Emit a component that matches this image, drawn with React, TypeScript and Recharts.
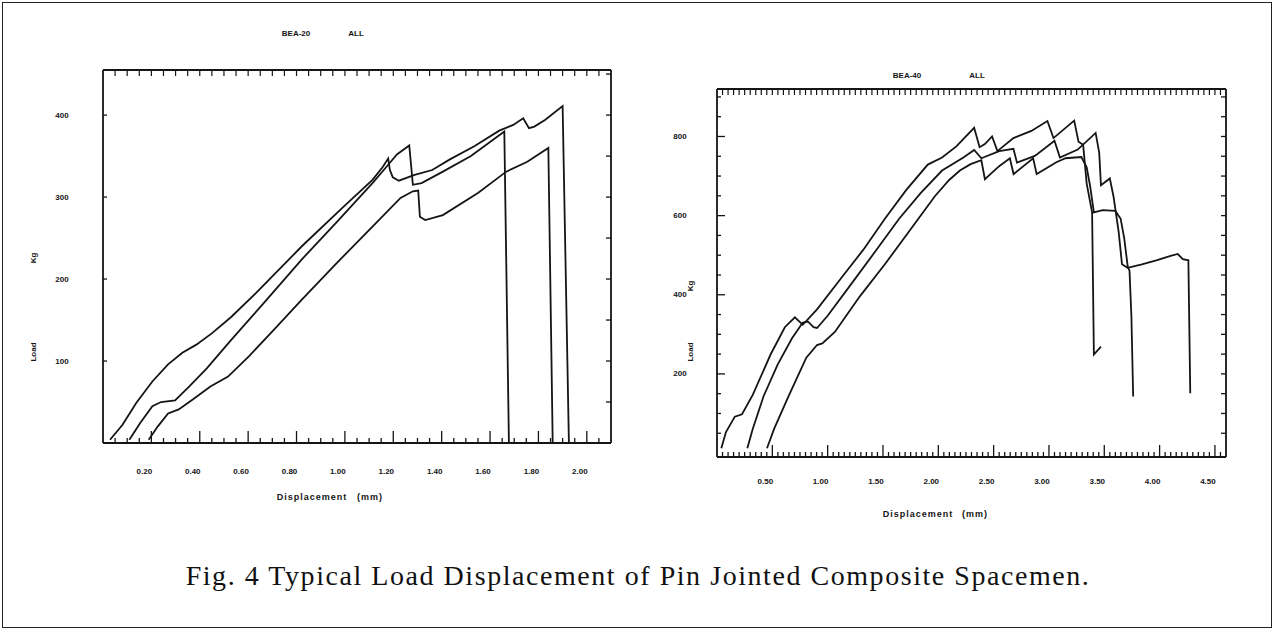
import { LineChart, Line, XAxis, YAxis } from "recharts";

// ---- left panel (BEA-20) ----
const L_X_LABELS = [0.2, 0.4, 0.6, 0.8, 1.0, 1.2, 1.4, 1.6, 1.8, 2.0];
const L_Y_LABELS = [100, 200, 300, 400];

const L1_X = [0.029, 0.08, 0.138, 0.204, 0.269, 0.328, 0.386, 0.451, 0.531, 0.633, 0.822, 0.997, 1.114, 1.157, 1.179, 1.186, 1.198, 1.223, 1.288, 1.361, 1.434, 1.535, 1.638, 1.696, 1.737, 1.761, 1.783, 1.827, 1.9, 1.926];
const L1_Y = [4, 22, 49, 75, 96, 110, 120, 134, 154, 183, 240, 289, 321, 337, 347, 333, 324, 320, 327, 333, 346, 362, 381, 388, 396, 384, 386, 394, 411, 0];

const L2_X = [0.109, 0.153, 0.204, 0.24, 0.298, 0.357, 0.429, 0.531, 0.677, 0.822, 0.968, 1.114, 1.172, 1.215, 1.266, 1.281, 1.317, 1.405, 1.521, 1.659, 1.678];
const L2_Y = [4, 24, 45, 50, 52, 69, 91, 126, 175, 224, 270, 317, 337, 352, 363, 315, 317, 331, 350, 380, 0];

const L3_X = [0.189, 0.226, 0.269, 0.313, 0.371, 0.444, 0.517, 0.604, 0.706, 0.822, 0.968, 1.114, 1.23, 1.281, 1.303, 1.31, 1.332, 1.405, 1.55, 1.667, 1.754, 1.841, 1.859];
const L3_Y = [4, 20, 36, 41, 53, 69, 81, 106, 138, 175, 220, 264, 299, 307, 308, 276, 272, 278, 305, 331, 343, 360, 0];

// ---- right panel (BEA-40) ----
const R_X_LABELS = [0.5, 1.0, 1.5, 2.0, 2.5, 3.0, 3.5, 4.0, 4.5];
const R_Y_LABELS = [200, 400, 600, 800];

const R1_X = [0.039, 0.081, 0.161, 0.226, 0.323, 0.484, 0.613, 0.704, 0.775, 0.904, 1.13, 1.323, 1.517, 1.711, 1.905, 2.034, 2.163, 2.324, 2.373, 2.421, 2.486, 2.534, 2.679, 2.841, 2.986, 3.041, 3.228, 3.267, 3.309, 3.341, 3.39, 3.406, 3.47];
const R1_Y = [12, 53, 92, 98, 147, 249, 318, 343, 324, 363, 445, 514, 592, 665, 729, 747, 775, 822, 773, 781, 800, 763, 796, 814, 839, 796, 840, 787, 779, 681, 608, 249, 269];

const R2_X = [0.274, 0.323, 0.42, 0.549, 0.678, 0.775, 0.823, 0.872, 0.904, 1.0, 1.194, 1.453, 1.646, 1.84, 2.034, 2.227, 2.324, 2.389, 2.55, 2.679, 2.711, 2.873, 3.05, 3.099, 3.26, 3.422, 3.454, 3.47, 3.55, 3.583, 3.63, 3.66, 3.71, 3.84, 3.97, 4.1, 4.164, 4.21, 4.26, 4.277];
const R2_Y = [12, 61, 143, 224, 290, 330, 332, 318, 316, 347, 420, 518, 592, 657, 714, 747, 766, 745, 763, 769, 734, 751, 789, 747, 767, 809, 759, 677, 694, 649, 559, 477, 468, 477, 487, 498, 503, 490, 487, 151];

const R3_X = [0.452, 0.516, 0.646, 0.807, 0.904, 0.952, 1.065, 1.291, 1.517, 1.775, 1.969, 2.098, 2.195, 2.292, 2.389, 2.421, 2.55, 2.647, 2.68, 2.857, 2.889, 3.067, 3.15, 3.293, 3.341, 3.373, 3.406, 3.486, 3.6, 3.648, 3.68, 3.712, 3.728, 3.745, 3.761];
const R3_Y = [12, 61, 143, 241, 273, 277, 306, 396, 477, 575, 649, 690, 714, 730, 740, 692, 725, 745, 705, 745, 705, 735, 745, 748, 722, 673, 608, 614, 612, 592, 543, 471, 461, 347, 143];

const zip = (xs: number[], ys: number[]) => xs.map((x, i) => ({ x, y: ys[i] }));

const steps = (from: number, to: number, step: number) => {
  const out: number[] = [];
  for (let v = from; v <= to + 1e-9; v += step) out.push(Math.round(v * 1000) / 1000);
  return out;
};

const INK = "#151515";
const tickFont = { fontFamily: "Liberation Sans", fontWeight: 700, fontSize: 8, fill: INK } as const;
const near = (arr: number[], v: number) => arr.some((a) => Math.abs(a - v) < 1e-6);

// bottom ticks point up into the plot, labels sit below
const bottomTick = (labels: number[], tallEvery: number[], labelDy: number) => (p: any) => {
  const v = p.payload.value;
  const tall = near(tallEvery, v);
  return (
    <g>
      <line x1={p.x} y1={p.y} x2={p.x} y2={p.y - (tall ? 12 : 5)} stroke={INK} strokeWidth={1.3} />
      {near(labels, v) && (
        <text x={p.x - 7} y={p.y + labelDy} textAnchor="middle" dominantBaseline="central" {...tickFont}>
          {v.toFixed(2)}
        </text>
      )}
    </g>
  );
};

const topTick = (len: number) => (p: any) => (
  <line x1={p.x} y1={p.y} x2={p.x} y2={p.y + len} stroke={INK} strokeWidth={1.2} />
);

const leftTick = (labels: number[], longEvery: number[], labelDx: number) => (p: any) => {
  const v = p.payload.value;
  const long = near(longEvery, v);
  return (
    <g>
      <line x1={p.x} y1={p.y} x2={p.x + (long ? 8 : 4)} y2={p.y} stroke={INK} strokeWidth={1.3} />
      {near(labels, v) && (
        <text x={p.x - labelDx} y={p.y} textAnchor="middle" dominantBaseline="central" {...tickFont}>
          {v}
        </text>
      )}
    </g>
  );
};

const rightTick = (p: any) => (
  <line x1={p.x} y1={p.y} x2={p.x - 5} y2={p.y} stroke={INK} strokeWidth={1.3} />
);

const smallText = (left: number, top: number, text: string, rotate = false, size = 8) => (
  <div
    style={{
      position: "absolute",
      left,
      top,
      transform: `translate(-50%, -50%)${rotate ? " rotate(-90deg)" : ""}`,
      fontFamily: "Liberation Sans",
      fontWeight: 700,
      fontSize: size,
      color: INK,
      whiteSpace: "pre",
      letterSpacing: size > 8 ? 1 : 0,
    }}
  >
    {text}
  </div>
);

interface PanelProps {
  series: { x: number; y: number }[][];
  xDomain: [number, number];
  yDomain: [number, number];
  xLabels: number[];
  xMinor: number[];
  xTall: number[];
  yLeft: number[];
  yLong: number[];
  yLabels: number[];
  yRight: number[];
  width: number;
  height: number;
  margin: { top: number; right: number; bottom: number; left: number };
  labelDy: number;
  labelDx: number;
}

function Panel(props: PanelProps) {
  return (
    <LineChart width={props.width} height={props.height} margin={props.margin}>
      <XAxis
        xAxisId="b"
        dataKey="x"
        type="number"
        domain={props.xDomain}
        allowDataOverflow
        ticks={props.xMinor}
        interval={0}
        height={60}
        tickSize={0}
        tickMargin={0}
        tickLine={false}
        axisLine={{ stroke: INK, strokeWidth: 1.8 }}
        tick={bottomTick(props.xLabels, props.xTall, props.labelDy)}
      />
      <XAxis
        xAxisId="t"
        dataKey="x"
        orientation="top"
        type="number"
        domain={props.xDomain}
        allowDataOverflow
        ticks={props.xMinor}
        interval={0}
        height={10}
        tickSize={0}
        tickMargin={0}
        tickLine={false}
        axisLine={{ stroke: INK, strokeWidth: 1.8 }}
        tick={topTick(6)}
      />
      <YAxis
        yAxisId="l"
        dataKey="y"
        type="number"
        domain={props.yDomain}
        allowDataOverflow
        ticks={props.yLeft}
        interval={0}
        width={40}
        tickSize={0}
        tickMargin={0}
        tickLine={false}
        axisLine={{ stroke: INK, strokeWidth: 1.8 }}
        tick={leftTick(props.yLabels, props.yLong, props.labelDx)}
      />
      <YAxis
        yAxisId="r"
        dataKey="y"
        orientation="right"
        type="number"
        domain={props.yDomain}
        allowDataOverflow
        ticks={props.yRight}
        interval={0}
        width={10}
        tickSize={0}
        tickMargin={0}
        tickLine={false}
        axisLine={{ stroke: INK, strokeWidth: 1.8 }}
        tick={rightTick}
      />
      {props.series.map((d, i) => (
        <Line
          key={i}
          // the top and bottom axes share one domain, so the last curve is bound
          // to the top / right pair to give those axes data of their own
          xAxisId={i === props.series.length - 1 ? "t" : "b"}
          yAxisId={i === props.series.length - 1 ? "r" : "l"}
          data={d}
          dataKey="y"
          type="linear"
          stroke={INK}
          strokeWidth={1.8}
          dot={false}
          activeDot={false}
          isAnimationActive={false}
        />
      ))}
    </LineChart>
  );
}

export default function App() {
  return (
    <div style={{ position: "absolute", left: 0, top: 0, width: 1276, height: 632, background: "#fff", overflow: "hidden" }}>
      <div style={{ position: "absolute", left: 2, top: 2, width: 1268, height: 624, border: "1.5px solid #222" }} />

      <div style={{ position: "absolute", left: 0, top: 0 }}>
        <Panel
          series={[zip(L1_X, L1_Y), zip(L2_X, L2_Y), zip(L3_X, L3_Y)]}
          xDomain={[0, 2.1]}
          yDomain={[0, 455]}
          xLabels={L_X_LABELS}
          xMinor={steps(0.05, 2.05, 0.05)}
          xTall={steps(0.2, 2.0, 0.2)}
          yLeft={L_Y_LABELS}
          yLong={[]}
          yLabels={L_Y_LABELS}
          yRight={steps(50, 450, 50)}
          width={640}
          height={530}
          margin={{ top: 60, right: 19, bottom: 27, left: 63 }}
          labelDy={28}
          labelDx={41}
        />
      </div>

      <div style={{ position: "absolute", left: 640, top: 0 }}>
        <Panel
          series={[zip(R1_X, R1_Y), zip(R2_X, R2_Y), zip(R3_X, R3_Y)]}
          xDomain={[0, 4.6]}
          yDomain={[-10, 920]}
          xLabels={R_X_LABELS}
          xMinor={steps(0.05, 4.55, 0.05)}
          xTall={R_X_LABELS}
          yLeft={steps(50, 900, 50)}
          yLong={R_Y_LABELS}
          yLabels={R_Y_LABELS}
          yRight={steps(50, 900, 50)}
          width={636}
          height={540}
          margin={{ top: 79, right: 40, bottom: 23, left: 37 }}
          labelDy={24}
          labelDx={37}
        />
      </div>

      {smallText(296, 33, "BEA-20")}
      {smallText(356, 33, "ALL")}
      {smallText(33, 258, "Kg", true)}
      {smallText(33, 352, "Load", true)}
      {smallText(312, 497, "Displacement", false, 9)}
      {smallText(370, 497, "(mm)", false, 9)}

      {smallText(907, 75, "BEA-40")}
      {smallText(977, 75, "ALL")}
      {smallText(690, 286, "Kg", true)}
      {smallText(690, 352, "Load", true)}
      {smallText(918, 514, "Displacement", false, 9)}
      {smallText(975, 514, "(mm)", false, 9)}

      <div
        style={{
          position: "absolute",
          left: 0,
          width: 1276,
          top: 576,
          transform: "translateY(-50%)",
          textAlign: "center",
          fontFamily: "Liberation Serif",
          fontSize: 28,
          letterSpacing: 1.55,
          color: "#111",
          whiteSpace: "nowrap",
        }}
      >
        Fig. 4 Typical Load Displacement of Pin Jointed Composite Spacemen.
      </div>
    </div>
  );
}
